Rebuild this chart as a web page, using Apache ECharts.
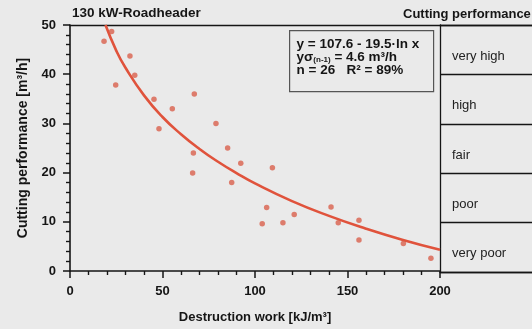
<!DOCTYPE html>
<html>
<head>
<meta charset="utf-8">
<script src="https://cdn.jsdelivr.net/npm/echarts@6.0.0/dist/echarts.min.js"></script>
<style>
  html, body { margin: 0; padding: 0; background: #eaeaea; }
  #root { width: 532px; height: 329px; }
</style>
</head>
<body>
<div id="root"></div>
<script>
// measured points: destruction work [kJ/m3] vs cutting performance [m3/h]
const workX = [18.4, 22.5, 24.7, 32.4, 35, 45.4, 48.1, 55.3, 66.3, 66.7, 67.2, 78.9, 85.2,
  87.4, 92.3, 103.9, 106.3, 109.4, 115.1, 121.2, 141.1, 145, 156.2, 156.2, 180.2, 195.1]
const perfY = [46.7, 48.7, 37.8, 43.7, 39.8, 34.9, 28.9, 33, 19.9, 24, 36, 30, 25,
  18, 21.9, 9.6, 12.9, 21, 9.8, 11.5, 13, 9.8, 10.3, 6.3, 5.6, 2.6]

// regression curve
const fitX = [19.2, 25, 30, 40, 50, 60, 70, 80, 90, 100, 120, 140, 160, 180, 200]
const fitY = [50, 44.8, 41.3, 35.7, 31.3, 27.8, 24.8, 22.2, 19.9, 17.8, 14.2, 11.2, 8.6, 6.3, 4.3]

// performance classes, bottom to top
const classes = ['very poor', 'poor', 'fair', 'high', 'very high']

const xTicks = { min: 0, max: 200, step: 50 }
const yTicks = { min: 0, max: 50, step: 10 }

const font = 'Liberation Sans, Arial, sans-serif'
const ink = '#151515'

const zip = (xs, ys) => xs.map((x, i) => [x, ys[i]])

const lineOnly = (gridIndex, position) => ({
  gridIndex,
  position,
  type: 'value',
  min: 0,
  max: 1,
  axisLine: { show: true, onZero: false, lineStyle: { color: ink, width: 1.3 } },
  axisTick: { show: false },
  axisLabel: { show: false },
  splitLine: { show: false }
})

const option = {
  backgroundColor: '#eaeaea',
  animation: false,
  title: [
    {
      text: '130 kW-Roadheader',
      left: 72,
      top: 6,
      padding: 0,
      textStyle: { fontFamily: font, fontSize: 13.5, fontWeight: 'bold', color: ink }
    },
    {
      text: 'Cutting performance',
      left: 403,
      top: 8,
      padding: 0,
      textStyle: { fontFamily: font, fontSize: 13, fontWeight: 'bold', color: ink }
    }
  ],
  grid: [
    { left: 70, top: 25, width: 370, height: 247 },
    { left: 440, top: 25, right: 0, height: 247 }
  ],
  xAxis: [
    {
      gridIndex: 0,
      type: 'value',
      min: xTicks.min,
      max: xTicks.max,
      interval: xTicks.step,
      name: 'Destruction work [kJ/m³]',
      nameLocation: 'middle',
      nameGap: 40,
      nameTextStyle: { fontFamily: font, fontSize: 13, fontWeight: 'bold', color: ink },
      axisLine: { lineStyle: { color: ink, width: 1.6 } },
      axisTick: { length: 7, lineStyle: { color: ink, width: 1.5 } },
      minorTick: { show: true, splitNumber: 5, length: 4, lineStyle: { color: ink, width: 1.4 } },
      axisLabel: { margin: 14, fontFamily: font, fontSize: 13, fontWeight: 'bold', color: ink },
      splitLine: { show: false }
    },
    { ...lineOnly(0, 'top'), min: xTicks.min, max: xTicks.max },
    lineOnly(1, 'bottom'),
    lineOnly(1, 'top')
  ],
  yAxis: [
    {
      gridIndex: 0,
      type: 'value',
      min: yTicks.min,
      max: yTicks.max,
      interval: yTicks.step,
      name: 'Cutting performance [m³/h]',
      nameLocation: 'middle',
      nameGap: 40,
      nameTextStyle: { fontFamily: font, fontSize: 14, fontWeight: 'bold', color: ink },
      axisLine: { show: true, lineStyle: { color: ink, width: 1.6 } },
      axisTick: { length: 7, lineStyle: { color: ink, width: 1.5 } },
      minorTick: { show: true, splitNumber: 5, length: 4, lineStyle: { color: ink, width: 1.4 } },
      axisLabel: { margin: 14, fontFamily: font, fontSize: 13, fontWeight: 'bold', color: ink },
      splitLine: { show: false }
    },
    {
      gridIndex: 1,
      type: 'category',
      data: classes,
      position: 'left',
      axisLine: { show: true, lineStyle: { color: ink, width: 1.3 } },
      axisTick: { show: false },
      axisLabel: {
        inside: true,
        margin: 12,
        verticalAlign: 'top',
        lineHeight: 13,
        fontFamily: font,
        fontSize: 13,
        color: '#222'
      },
      splitLine: { show: true, interval: 0, lineStyle: { color: ink, width: 1.3 } }
    }
  ],
  graphic: [
    {
      type: 'group',
      left: 289,
      top: 30,
      children: [
        {
          type: 'rect',
          shape: { x: 0, y: 0, width: 144, height: 61 },
          style: { fill: 'rgba(0,0,0,0)', stroke: '#555', lineWidth: 1.2 }
        },
        {
          type: 'text',
          x: 7,
          y: 7,
          style: {
            text: 'y = 107.6 - 19.5·ln x\nyσ{s|(n-1)} = 4.6 m³/h\nn = 26   R² = 89%',
            font: 'bold 13.5px ' + font,
            fill: ink,
            lineHeight: 13,
            rich: {
              s: { fontFamily: font, fontSize: 8, fontWeight: 'bold', fill: ink, padding: [6, 0, 0, 0] }
            }
          }
        }
      ]
    }
  ],
  series: [
    {
      type: 'line',
      xAxisIndex: 0,
      yAxisIndex: 0,
      data: zip(fitX, fitY),
      smooth: true,
      showSymbol: false,
      lineStyle: { color: '#e0533c', width: 2.6 },
      z: 3
    },
    {
      type: 'scatter',
      xAxisIndex: 0,
      yAxisIndex: 0,
      data: zip(workX, perfY),
      symbolSize: 5.5,
      itemStyle: { color: '#d9604c' },
      z: 4
    }
  ]
}

const myChart = echarts.init(document.getElementById('root'))
myChart.setOption(option)
</script>
</body>
</html>
